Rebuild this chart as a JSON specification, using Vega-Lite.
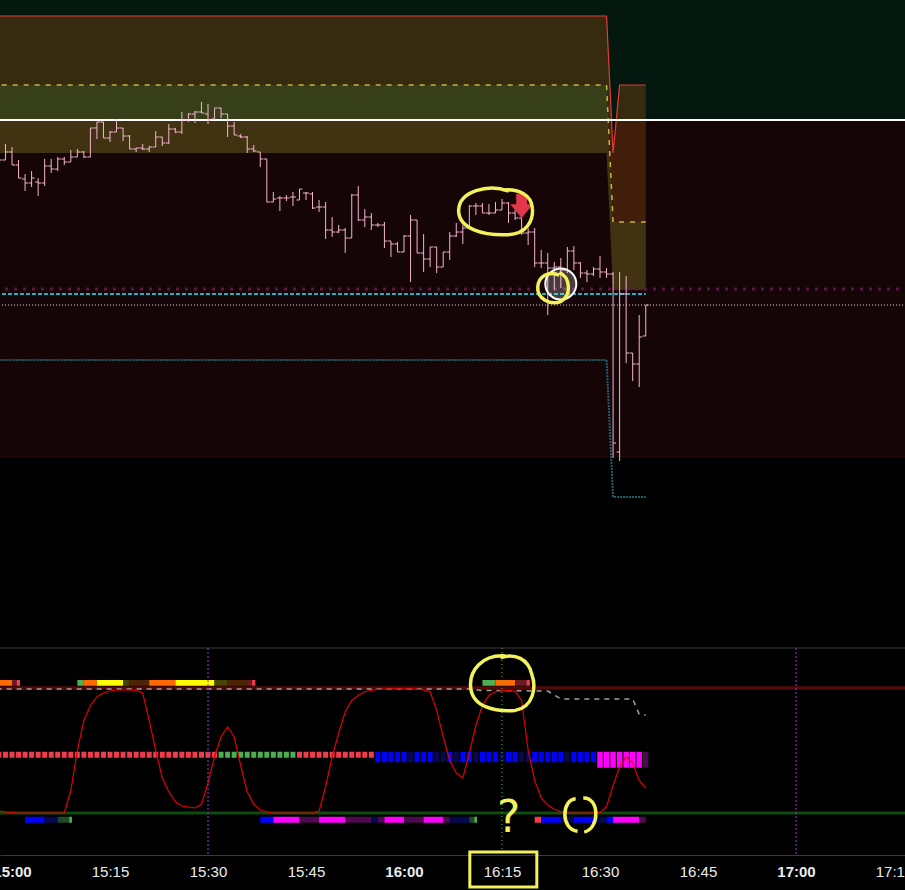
{
"$schema":"https://vega.github.io/schema/vega-lite/v6.json",
"width":905,"height":890,"padding":0,"autosize":"none","background":"#000000",
"config":{"view":{"stroke":null}},
"data":{"values":[
{"t":-2,"o":4960.5,"h":4962.5,"l":4959,"c":4960,"v":1.6,"sq":"red"},
{"t":-1,"o":4960,"h":4964,"l":4960,"c":4962,"v":0.8,"sq":"red"},
{"t":0,"o":4962,"h":4963.25,"l":4958.75,"c":4958.75,"v":0.3,"sq":"red"},
{"t":1,"o":4958.75,"h":4960,"l":4955.5,"c":4955.5,"v":0,"sq":"red"},
{"t":2,"o":4955.25,"h":4956.5,"l":4952.25,"c":4954.25,"v":0,"sq":"red"},
{"t":3,"o":4954.25,"h":4957.25,"l":4953.25,"c":4955.5,"v":0,"sq":"red"},
{"t":4,"o":4954.5,"h":4955.5,"l":4951,"c":4954.25,"v":0,"sq":"red"},
{"t":5,"o":4954.25,"h":4960.25,"l":4953.5,"c":4958.5,"v":0,"sq":"red"},
{"t":6,"o":4958.5,"h":4960.25,"l":4956.75,"c":4957.75,"v":0,"sq":"red"},
{"t":7,"o":4957.75,"h":4960.75,"l":4957.25,"c":4960.25,"v":0,"sq":"red"},
{"t":8,"o":4960.25,"h":4960.75,"l":4958.75,"c":4959.5,"v":0,"sq":"red"},
{"t":9,"o":4959.5,"h":4962.5,"l":4959.5,"c":4960.75,"v":18,"sq":"red"},
{"t":10,"o":4960.75,"h":4962.75,"l":4960.75,"c":4962,"v":50,"sq":"red"},
{"t":11,"o":4962,"h":4962.25,"l":4960.5,"c":4960.75,"v":74,"sq":"red"},
{"t":12,"o":4960.75,"h":4968,"l":4960.75,"c":4968,"v":86,"sq":"red"},
{"t":13,"o":4968,"h":4969.5,"l":4965.25,"c":4969.5,"v":93,"sq":"red"},
{"t":14,"o":4969.5,"h":4969.5,"l":4965.5,"c":4965.5,"v":96,"sq":"red"},
{"t":15,"o":4965.5,"h":4967.25,"l":4964.5,"c":4967,"v":97.6,"sq":"red"},
{"t":16,"o":4967,"h":4970.25,"l":4967,"c":4968,"v":98.4,"sq":"red"},
{"t":17,"o":4968,"h":4968,"l":4964.75,"c":4966,"v":98.4,"sq":"red"},
{"t":18,"o":4966,"h":4966.25,"l":4962.75,"c":4962.75,"v":98.4,"sq":"red"},
{"t":19,"o":4962.75,"h":4963,"l":4962,"c":4963,"v":98,"sq":"red"},
{"t":20,"o":4963,"h":4964,"l":4962.5,"c":4962.75,"v":96,"sq":"red"},
{"t":21,"o":4962.75,"h":4963.5,"l":4962,"c":4963.25,"v":74,"sq":"red"},
{"t":22,"o":4963.25,"h":4967.25,"l":4963.25,"c":4965.75,"v":50,"sq":"red"},
{"t":23,"o":4965.75,"h":4965.75,"l":4963.5,"c":4964.25,"v":28,"sq":"red"},
{"t":24,"o":4964.25,"h":4969,"l":4964,"c":4967.75,"v":17,"sq":"red"},
{"t":25,"o":4967.75,"h":4968,"l":4966.75,"c":4967,"v":9,"sq":"red"},
{"t":26,"o":4967,"h":4972,"l":4966.5,"c":4970,"v":5.6,"sq":"red"},
{"t":27,"o":4970,"h":4971.75,"l":4969.5,"c":4971.5,"v":4.8,"sq":"red"},
{"t":28,"o":4971.5,"h":4972.25,"l":4969.25,"c":4972,"v":4,"sq":"red"},
{"t":29,"o":4972,"h":4974.5,"l":4971.75,"c":4971.75,"v":7,"sq":"red"},
{"t":30,"o":4971.5,"h":4974,"l":4969,"c":4970,"v":24,"sq":"red"},
{"t":31,"o":4970.25,"h":4973,"l":4970,"c":4973,"v":45,"sq":"red"},
{"t":32,"o":4973,"h":4973,"l":4970.5,"c":4971.5,"v":61,"sq":"green"},
{"t":33,"o":4971.5,"h":4971.5,"l":4965.75,"c":4968.5,"v":69,"sq":"green"},
{"t":34,"o":4968.5,"h":4969.5,"l":4966.25,"c":4966.25,"v":61,"sq":"green"},
{"t":35,"o":4966,"h":4966.5,"l":4965.5,"c":4965.75,"v":38,"sq":"green"},
{"t":36,"o":4965.75,"h":4966,"l":4961.75,"c":4962.75,"v":17,"sq":"green"},
{"t":37,"o":4962.75,"h":4963.75,"l":4962,"c":4962.25,"v":7,"sq":"green"},
{"t":38,"o":4962,"h":4962,"l":4958.25,"c":4960.25,"v":2.4,"sq":"green"},
{"t":39,"o":4960.25,"h":4960.25,"l":4949.5,"c":4949.5,"v":0.8,"sq":"green"},
{"t":40,"o":4949.5,"h":4952,"l":4949.5,"c":4950.25,"v":0,"sq":"green"},
{"t":41,"o":4950.5,"h":4951,"l":4947.25,"c":4950.5,"v":0,"sq":"green"},
{"t":42,"o":4950.5,"h":4951.25,"l":4949.75,"c":4950.5,"v":0,"sq":"green"},
{"t":43,"o":4950.75,"h":4952,"l":4948.5,"c":4950.75,"v":0,"sq":"green"},
{"t":44,"o":4950,"h":4952.75,"l":4950,"c":4952.75,"v":0,"sq":"red"},
{"t":45,"o":4951.75,"h":4952,"l":4950,"c":4951.75,"v":0,"sq":"red"},
{"t":46,"o":4951.5,"h":4952,"l":4947.75,"c":4948,"v":0,"sq":"red"},
{"t":47,"o":4948.25,"h":4950,"l":4947,"c":4948.25,"v":1.6,"sq":"red"},
{"t":48,"o":4948.25,"h":4949.5,"l":4940.25,"c":4942.5,"v":21,"sq":"red"},
{"t":49,"o":4942.5,"h":4945.75,"l":4940.75,"c":4942,"v":45,"sq":"red"},
{"t":50,"o":4942,"h":4943.75,"l":4941.75,"c":4942.5,"v":64,"sq":"red"},
{"t":51,"o":4942.5,"h":4943,"l":4936.75,"c":4940.5,"v":81,"sq":"red"},
{"t":52,"o":4940.5,"h":4951.5,"l":4940.5,"c":4951.25,"v":90,"sq":"red"},
{"t":53,"o":4951.25,"h":4953.5,"l":4944.75,"c":4945,"v":94,"sq":"red"},
{"t":54,"o":4945,"h":4947.75,"l":4943.25,"c":4945.75,"v":97,"sq":"red"},
{"t":55,"o":4945.75,"h":4946.75,"l":4942.5,"c":4943.75,"v":98,"sq":"red"},
{"t":56,"o":4943.75,"h":4944.25,"l":4943.25,"c":4943.75,"v":99,"sq":"blue"},
{"t":57,"o":4943.75,"h":4944.5,"l":4938,"c":4939.75,"v":99.2,"sq":"blue"},
{"t":58,"o":4939.75,"h":4939.75,"l":4935.75,"c":4939,"v":99.3,"sq":"blue"},
{"t":59,"o":4939,"h":4939.5,"l":4937,"c":4937,"v":99.3,"sq":"blue"},
{"t":60,"o":4937,"h":4941.25,"l":4937,"c":4941,"v":99.3,"sq":"blue"},
{"t":61,"o":4941,"h":4946.25,"l":4929.5,"c":4945,"v":99.3,"sq":"navy"},
{"t":62,"o":4945,"h":4945,"l":4936.75,"c":4936.75,"v":99.2,"sq":"blue"},
{"t":63,"o":4936.75,"h":4941.5,"l":4932,"c":4935.25,"v":98.5,"sq":"blue"},
{"t":64,"o":4935.25,"h":4938.25,"l":4933.25,"c":4938.25,"v":97,"sq":"blue"},
{"t":65,"o":4938.25,"h":4938.25,"l":4931.75,"c":4933.25,"v":82,"sq":"navy"},
{"t":66,"o":4933.25,"h":4937,"l":4933.25,"c":4937,"v":61,"sq":"navy"},
{"t":67,"o":4937,"h":4942,"l":4935,"c":4941,"v":42,"sq":"blue"},
{"t":68,"o":4941,"h":4944.25,"l":4940.75,"c":4942,"v":32,"sq":"navy"},
{"t":69,"o":4942,"h":4943.75,"l":4939,"c":4943,"v":28,"sq":"blue"},
{"t":70,"o":4943,"h":4948.75,"l":4943,"c":4948.5,"v":48,"sq":"blue"},
{"t":71,"o":4948.5,"h":4949.25,"l":4946.25,"c":4948.5,"v":70,"sq":"navy"},
{"t":72,"o":4948.5,"h":4949.25,"l":4946.75,"c":4946.75,"v":86,"sq":"blue"},
{"t":73,"o":4946.75,"h":4949,"l":4946.25,"c":4946.75,"v":94,"sq":"blue"},
{"t":74,"o":4946.75,"h":4949.5,"l":4946.75,"c":4947.5,"v":97,"sq":"blue"},
{"t":75,"o":4947.5,"h":4950.25,"l":4947.5,"c":4949.25,"v":98,"sq":"navy"},
{"t":76,"o":4949.25,"h":4949.5,"l":4944.25,"c":4946.75,"v":98,"sq":"blue"},
{"t":77,"o":4946.75,"h":4947.5,"l":4945,"c":4945.5,"v":97.5,"sq":"blue"},
{"t":78,"o":4945.5,"h":4945.5,"l":4941.25,"c":4941.75,"v":90,"sq":"navy"},
{"t":79,"o":4941.75,"h":4943,"l":4938.75,"c":4942,"v":50,"sq":"navy"},
{"t":80,"o":4942,"h":4943,"l":4933.25,"c":4934.25,"v":26,"sq":"blue"},
{"t":81,"o":4934.25,"h":4937.5,"l":4933,"c":4934.25,"v":12,"sq":"blue"},
{"t":82,"o":4934.25,"h":4936.75,"l":4921.25,"c":4933,"v":6.4,"sq":"blue"},
{"t":83,"o":4933,"h":4934.5,"l":4927.5,"c":4933.25,"v":3,"sq":"blue"},
{"t":84,"o":4933.25,"h":4935.5,"l":4928,"c":4932.5,"v":1,"sq":"blue"},
{"t":85,"o":4932.5,"h":4938.25,"l":4931.75,"c":4937.25,"v":0,"sq":"navy"},
{"t":86,"o":4937.25,"h":4938.5,"l":4932.5,"c":4934.25,"v":0,"sq":"blue"},
{"t":87,"o":4934.25,"h":4934.5,"l":4930.5,"c":4931.75,"v":0,"sq":"blue"},
{"t":88,"o":4931.75,"h":4932.5,"l":4929.5,"c":4931.5,"v":0,"sq":"blue"},
{"t":89,"o":4931.5,"h":4933.25,"l":4931,"c":4932.75,"v":0.2,"sq":"blue"},
{"t":90,"o":4932.75,"h":4936,"l":4930.5,"c":4932,"v":0.5,"sq":"magenta"},
{"t":91,"o":4932,"h":4933,"l":4930.5,"c":4931.5,"v":5,"sq":"magenta"},
{"t":92,"o":4931.5,"h":4932,"l":4885.5,"c":4889.25,"v":22,"sq":"magenta"},
{"t":93,"o":4887,"h":4932,"l":4884.75,"c":4926.5,"v":37,"sq":"magenta"},
{"t":94,"o":4926.5,"h":4931,"l":4909.25,"c":4911.75,"v":45,"sq":"magenta"},
{"t":95,"o":4911.75,"h":4911.75,"l":4904.75,"c":4909,"v":40,"sq":"magenta"},
{"t":96,"o":4909,"h":4921.25,"l":4903.25,"c":4915.75,"v":26,"sq":"magenta"},
{"t":97,"o":4916,"h":4923.75,"l":4916,"c":4923.75,"v":20,"sq":"purple"}
]},
"encoding":{"x":{"field":"t","type":"quantitative",
 "scale":{"domain":[-1.837,136.68],"nice":false,"zero":false,"padding":0},
 "axis":{"orient":"bottom","offset":-35,"values":[0,15,30,45,60,75,90,105,120,135],"grid":false,"ticks":false,"title":null,
  "labelExpr":"(15+floor(datum.value/60)) + ':' + (datum.value%60 < 10 ? '0' : '') + (datum.value%60)",
  "labelColor":"#ececec","labelFont":"Liberation Sans","labelFontSize":15,"labelPadding":9,"labelOverlap":false,"labelFlush":false,"labelBound":false,
  "labelFontWeight":{"condition":{"test":"datum.value%60==0","value":"bold"},"value":"normal"},
  "domainColor":"#3a3a3a","domainWidth":1}}},
"resolve":{"scale":{"y":"independent"}},
"layer":[
{"layer":[
 {"data":{"values":[{"t":-30,"t2":180,"hi":5010,"lo":4970}]},
  "mark":{"type":"rect","color":"#05180f"},
  "encoding":{"x2":{"field":"t2"},"y":{"field":"hi","type":"quantitative","scale":{"domain":[4777.5,5000],"nice":false,"zero":false},"axis":null},"y2":{"field":"lo"}}},
 {"data":{"values":[{"t":-30,"t2":180,"hi":4970,"lo":4885.75}]},
  "mark":{"type":"rect","color":"#150507","stroke":"#2a0808","strokeWidth":1},
  "encoding":{"x2":{"field":"t2"},"y":{"field":"hi","type":"quantitative","scale":{"domain":[4777.5,5000],"nice":false,"zero":false},"axis":null},"y2":{"field":"lo"}}},
 {"data":{"values":[{"t":-10,"u":4996,"m":4978.75,"l":4961.75},{"t":91,"u":4996,"m":4978.75,"l":4961.75},{"t":92,"u":4961.75,"m":4944.5,"l":4927.5},{"t":93,"u":4978.75,"m":4944.5,"l":4927.5},{"t":97,"u":4978.75,"m":4944.5,"l":4927.5}]},
  "layer":[
   {"mark":{"type":"area","color":"#aa5a0f","opacity":0.3},
    "encoding":{"y":{"field":"u","type":"quantitative","scale":{"domain":[4777.5,5000],"nice":false,"zero":false},"axis":null},"y2":{"field":"m"}}},
   {"mark":{"type":"area","color":"#aa9b2d","opacity":0.3},
    "encoding":{"y":{"field":"m","type":"quantitative","scale":{"domain":[4777.5,5000],"nice":false,"zero":false},"axis":null},"y2":{"field":"l"}}},
   {"mark":{"type":"line","color":"#e03c3c","strokeWidth":1.2},
    "encoding":{"y":{"field":"u","type":"quantitative","scale":{"domain":[4777.5,5000],"nice":false,"zero":false},"axis":null}}},
   {"mark":{"type":"line","color":"#c8b440","strokeWidth":1.5,"strokeDash":[5,6]},
    "encoding":{"y":{"field":"m","type":"quantitative","scale":{"domain":[4777.5,5000],"nice":false,"zero":false},"axis":null}}}
  ]},
 {"data":{"values":[{"t":-30,"t2":180,"p":4970}]},
  "mark":{"type":"rule","color":"#ffffff","strokeWidth":2},
  "encoding":{"x2":{"field":"t2"},"y":{"field":"p","type":"quantitative","scale":{"domain":[4777.5,5000],"nice":false,"zero":false},"axis":null}}},
 {"data":{"values":[{"t":-30,"t2":180,"p":4927.75}]},
  "mark":{"type":"rule","color":"#5a1446","strokeWidth":3,"strokeDash":[3,6]},
  "encoding":{"x2":{"field":"t2"},"y":{"field":"p","type":"quantitative","scale":{"domain":[4777.5,5000],"nice":false,"zero":false},"axis":null}}},
 {"data":{"values":[{"t":-30,"t2":97,"p":4926.5}]},
  "mark":{"type":"rule","color":"#18b4c8","strokeWidth":2,"strokeDash":[4,2]},
  "encoding":{"x2":{"field":"t2"},"y":{"field":"p","type":"quantitative","scale":{"domain":[4777.5,5000],"nice":false,"zero":false},"axis":null}}},
 {"data":{"values":[{"t":-30,"t2":180,"p":4923.75}]},
  "mark":{"type":"rule","color":"#eedddd","strokeWidth":1,"strokeDash":[1,2]},
  "encoding":{"x2":{"field":"t2"},"y":{"field":"p","type":"quantitative","scale":{"domain":[4777.5,5000],"nice":false,"zero":false},"axis":null}}},
 {"data":{"values":[{"t":-10,"p":4910},{"t":91,"p":4910},{"t":92,"p":4875.75},{"t":97,"p":4875.75}]},
  "mark":{"type":"line","color":"#1e5f6a","strokeWidth":2,"strokeDash":[2,1]},
  "encoding":{"y":{"field":"p","type":"quantitative","scale":{"domain":[4777.5,5000],"nice":false,"zero":false},"axis":null}}},
 {"mark":{"type":"rule","color":"#f5b4cd","strokeWidth":1},
  "encoding":{"y":{"field":"h","type":"quantitative","scale":{"domain":[4777.5,5000],"nice":false,"zero":false},"axis":null},"y2":{"field":"l"}}},
 {"mark":{"type":"rule","color":"#f5b4cd","strokeWidth":1,"xOffset":-3,"x2Offset":0},
  "encoding":{"x2":{"field":"t"},"y":{"field":"o","type":"quantitative","scale":{"domain":[4777.5,5000],"nice":false,"zero":false},"axis":null}}},
 {"mark":{"type":"rule","color":"#f5b4cd","strokeWidth":1,"xOffset":0,"x2Offset":3},
  "encoding":{"x2":{"field":"t"},"y":{"field":"c","type":"quantitative","scale":{"domain":[4777.5,5000],"nice":false,"zero":false},"axis":null}}},
 {"data":{"values":[{"t":78,"p":4948.5}]},
  "mark":{"type":"point","shape":"M-0.45,-1 L0.45,-1 L0.45,-0.15 L0.95,-0.15 L0,1 L-0.95,-0.15 L-0.45,-0.15 Z","size":576,"filled":true,"color":"#e0384a","opacity":1},
  "encoding":{"y":{"field":"p","type":"quantitative","scale":{"domain":[4777.5,5000],"nice":false,"zero":false},"axis":null}}},
 {"data":{"values":[{"t":84,"p":4929}]},
  "mark":{"type":"point","shape":"circle","size":961,"filled":true,"fill":"#ffffff","fillOpacity":0.22,"stroke":"#ffffff","strokeWidth":2,"strokeOpacity":1,"opacity":1},
  "encoding":{"y":{"field":"p","type":"quantitative","scale":{"domain":[4777.5,5000],"nice":false,"zero":false},"axis":null}}},
 {"data":{"values":[{"t":74,"p":4947}]},
  "mark":{"type":"point","shape":"M0.35,-0.55 C-0.2,-0.75 -0.95,-0.55 -0.97,-0.05 C-0.98,0.45 -0.3,0.62 0.3,0.6 C0.85,0.58 1.0,0.2 0.97,-0.1 C0.95,-0.45 0.6,-0.62 0.2,-0.58","size":5776,"filled":false,"stroke":"#f4f25a","strokeWidth":3.5,"opacity":1},
  "encoding":{"y":{"field":"p","type":"quantitative","scale":{"domain":[4777.5,5000],"nice":false,"zero":false},"axis":null}}},
 {"data":{"values":[{"t":83.5,"p":4928.5}]},
  "mark":{"type":"point","shape":"M0.1,-0.75 C0.7,-0.5 0.8,0.5 0.2,0.85 C-0.4,1.1 -1.15,0.7 -1.1,0.05 C-1.05,-0.55 -0.5,-0.85 0.1,-0.6","size":1296,"filled":false,"stroke":"#f4f25a","strokeWidth":3.5,"opacity":1},
  "encoding":{"y":{"field":"p","type":"quantitative","scale":{"domain":[4777.5,5000],"nice":false,"zero":false},"axis":null}}}
]},
{"layer":[
 {"data":{"values":[{"t":-30,"t2":180,"v":132}]},
  "mark":{"type":"rule","color":"#3a3a3a","strokeWidth":1},
  "encoding":{"x2":{"field":"t2"},"y":{"field":"v","type":"quantitative","scale":{"domain":[-61.6,650.4],"nice":false,"zero":false},"axis":null}}},
 {"data":{"values":[{"t":-30,"t2":180,"v":100}]},
  "mark":{"type":"rule","color":"#500a0a","strokeWidth":3.5},
  "encoding":{"x2":{"field":"t2"},"y":{"field":"v","type":"quantitative","scale":{"domain":[-61.6,650.4],"nice":false,"zero":false},"axis":null}}},
 {"data":{"values":[{"t":-30,"t2":180,"v":0}]},
  "mark":{"type":"rule","color":"#0f4b0f","strokeWidth":3},
  "encoding":{"x2":{"field":"t2"},"y":{"field":"v","type":"quantitative","scale":{"domain":[-61.6,650.4],"nice":false,"zero":false},"axis":null}}},
 {"data":{"values":[{"t":-10,"v":99.3},{"t":70,"v":99.3},{"t":72,"v":98},{"t":82,"v":97.6},{"t":84,"v":91.2},{"t":95,"v":91.2},{"t":96,"v":79},{"t":97,"v":78.4}]},
  "mark":{"type":"line","color":"#a89c9c","strokeWidth":1.5,"strokeDash":[5,5]},
  "encoding":{"y":{"field":"v","type":"quantitative","scale":{"domain":[-61.6,650.4],"nice":false,"zero":false},"axis":null}}},
 {"transform":[{"filter":"datum.sq=='red'||datum.sq=='green'"}],
  "mark":{"type":"bar","width":5},
  "encoding":{"y":{"datum":49,"type":"quantitative","scale":{"domain":[-61.6,650.4],"nice":false,"zero":false},"axis":null},"y2":{"datum":44.2},
   "color":{"field":"sq","type":"nominal","legend":null,"scale":{"domain":["red","green","orange","yellow","olive","brown","maroon","blue","navy","dkgreen","magenta","purple"],"range":["#f23c4b","#4caf50","#ff6a00","#ffff00","#454500","#4f2305","#6b1a22","#0000ff","#08084e","#1e4a2a","#ff00ff","#4d0a4d"]}}}},
 {"transform":[{"filter":"datum.sq=='blue'||datum.sq=='navy'"}],
  "mark":{"type":"bar","width":5},
  "encoding":{"y":{"datum":49,"type":"quantitative","scale":{"domain":[-61.6,650.4],"nice":false,"zero":false},"axis":null},"y2":{"datum":40.6},
   "color":{"field":"sq","type":"nominal","legend":null,"scale":{"domain":["red","green","orange","yellow","olive","brown","maroon","blue","navy","dkgreen","magenta","purple"],"range":["#f23c4b","#4caf50","#ff6a00","#ffff00","#454500","#4f2305","#6b1a22","#0000ff","#08084e","#1e4a2a","#ff00ff","#4d0a4d"]}}}},
 {"transform":[{"filter":"datum.sq=='magenta'||datum.sq=='purple'"}],
  "mark":{"type":"bar","width":5.5},
  "encoding":{"y":{"datum":49,"type":"quantitative","scale":{"domain":[-61.6,650.4],"nice":false,"zero":false},"axis":null},"y2":{"datum":36.2},
   "color":{"field":"sq","type":"nominal","legend":null,"scale":{"domain":["red","green","orange","yellow","olive","brown","maroon","blue","navy","dkgreen","magenta","purple"],"range":["#f23c4b","#4caf50","#ff6a00","#ffff00","#454500","#4f2305","#6b1a22","#0000ff","#08084e","#1e4a2a","#ff00ff","#4d0a4d"]}}}},
 {"data":{"values":[
   {"t":-10,"t2":0,"k":"orange"},{"t":0,"t2":0.72,"k":"maroon"},{"t":0.72,"t2":1.22,"k":"red"},
   {"t":10,"t2":11,"k":"green"},{"t":11,"t2":13,"k":"orange"},{"t":13,"t2":17,"k":"yellow"},
   {"t":17,"t2":18,"k":"olive"},{"t":18,"t2":21,"k":"brown"},{"t":21,"t2":25,"k":"orange"},
   {"t":25,"t2":31,"k":"yellow"},{"t":31,"t2":33,"k":"olive"},{"t":33,"t2":36,"k":"brown"},
   {"t":36,"t2":36.75,"k":"maroon"},{"t":36.75,"t2":37.25,"k":"red"},
   {"t":72,"t2":74,"k":"green"},{"t":74,"t2":77,"k":"orange"},{"t":77,"t2":78.75,"k":"maroon"},{"t":78.75,"t2":79.25,"k":"red"}
  ]},
  "mark":{"type":"rect"},
  "encoding":{"x2":{"field":"t2"},"y":{"datum":106.4,"type":"quantitative","scale":{"domain":[-61.6,650.4],"nice":false,"zero":false},"axis":null},"y2":{"datum":101.8},
   "color":{"field":"k","type":"nominal","legend":null,"scale":{"domain":["red","green","orange","yellow","olive","brown","maroon","blue","navy","dkgreen","magenta","purple"],"range":["#f23c4b","#4caf50","#ff6a00","#ffff00","#454500","#4f2305","#6b1a22","#0000ff","#08084e","#1e4a2a","#ff00ff","#4d0a4d"]}}}},
 {"data":{"values":[
   {"t":2,"t2":5,"k":"blue"},{"t":5,"t2":7,"k":"navy"},{"t":7,"t2":8.75,"k":"dkgreen"},{"t":8.75,"t2":9.17,"k":"green"},
   {"t":38,"t2":40,"k":"blue"},{"t":40,"t2":44,"k":"magenta"},{"t":44,"t2":47,"k":"purple"},
   {"t":47,"t2":51,"k":"magenta"},{"t":51,"t2":55,"k":"purple"},{"t":55,"t2":56,"k":"navy"},
   {"t":56,"t2":57,"k":"purple"},{"t":57,"t2":60,"k":"magenta"},{"t":60,"t2":63,"k":"purple"},
   {"t":63,"t2":66,"k":"magenta"},{"t":66,"t2":67,"k":"purple"},{"t":67,"t2":70,"k":"navy"},
   {"t":70,"t2":70.75,"k":"dkgreen"},{"t":70.75,"t2":71.17,"k":"green"},
   {"t":80,"t2":81,"k":"red"},{"t":81,"t2":84,"k":"blue"},{"t":84,"t2":86,"k":"navy"},
   {"t":86,"t2":89,"k":"blue"},{"t":89,"t2":91,"k":"navy"},{"t":91,"t2":92,"k":"blue"},
   {"t":92,"t2":96,"k":"magenta"},{"t":96,"t2":97,"k":"purple"}
  ]},
  "mark":{"type":"rect"},
  "encoding":{"x2":{"field":"t2"},"y":{"datum":-3,"type":"quantitative","scale":{"domain":[-61.6,650.4],"nice":false,"zero":false},"axis":null},"y2":{"datum":-7.8},
   "color":{"field":"k","type":"nominal","legend":null,"scale":{"domain":["red","green","orange","yellow","olive","brown","maroon","blue","navy","dkgreen","magenta","purple"],"range":["#f23c4b","#4caf50","#ff6a00","#ffff00","#454500","#4f2305","#6b1a22","#0000ff","#08084e","#1e4a2a","#ff00ff","#4d0a4d"]}}}},
 {"mark":{"type":"line","color":"#e00000","strokeWidth":1.2},
  "encoding":{"y":{"field":"v","type":"quantitative","scale":{"domain":[-61.6,650.4],"nice":false,"zero":false},"axis":null}}},
 {"data":{"values":[{"t":30},{"t":120}]},
  "mark":{"type":"rule","color":"#a035d8","strokeWidth":1,"strokeDash":[2,2]},
  "encoding":{"y":{"datum":132,"type":"quantitative","scale":{"domain":[-61.6,650.4],"nice":false,"zero":false},"axis":null},"y2":{"datum":-33.6}}},
 {"data":{"values":[{"t":75}]},
  "mark":{"type":"rule","color":"#3cc83c","strokeWidth":1,"strokeDash":[1,3]},
  "encoding":{"y":{"datum":132,"type":"quantitative","scale":{"domain":[-61.6,650.4],"nice":false,"zero":false},"axis":null},"y2":{"datum":-33.6}}},
 {"data":{"values":[{"t":75,"v":103.2}]},
  "mark":{"type":"point","shape":"M0.1,-0.85 C-0.6,-0.9 -1,-0.4 -0.95,0.1 C-0.9,0.7 -0.2,0.85 0.4,0.8 C0.95,0.7 1.05,0.1 0.9,-0.3 C0.8,-0.75 0.4,-0.95 -0.05,-0.8","size":4356,"filled":false,"stroke":"#f4f25a","strokeWidth":3.5,"opacity":1},
  "encoding":{"y":{"field":"v","type":"quantitative","scale":{"domain":[-61.6,650.4],"nice":false,"zero":false},"axis":null}}},
 {"data":{"values":[{"t":76,"v":-5,"txt":"?"}]},
  "mark":{"type":"text","color":"#f4f25a","fontSize":44,"font":"DejaVu Sans"},
  "encoding":{"y":{"field":"v","type":"quantitative","scale":{"domain":[-61.6,650.4],"nice":false,"zero":false},"axis":null},"text":{"field":"txt"}}},
 {"data":{"values":[{"t":87,"v":-1.6}]},
  "mark":{"type":"point","shape":"M-0.25,-0.85 C-1,-0.8 -1.05,0.75 -0.15,0.85 M0.15,-0.9 C1,-0.95 1.05,0.7 0.2,0.9","size":1444,"filled":false,"stroke":"#f4f25a","strokeWidth":3.5,"opacity":1},
  "encoding":{"y":{"field":"v","type":"quantitative","scale":{"domain":[-61.6,650.4],"nice":false,"zero":false},"axis":null}}},
 {"data":{"values":[{"t":75.2,"v":-45.2}]},
  "mark":{"type":"point","shape":"M-1,-0.52 L1,-0.52 L1,0.52 L-1,0.52 Z","size":4489,"filled":false,"stroke":"#f4f25a","strokeWidth":3,"opacity":1},
  "encoding":{"y":{"field":"v","type":"quantitative","scale":{"domain":[-61.6,650.4],"nice":false,"zero":false},"axis":null}}}
]}
]
}
